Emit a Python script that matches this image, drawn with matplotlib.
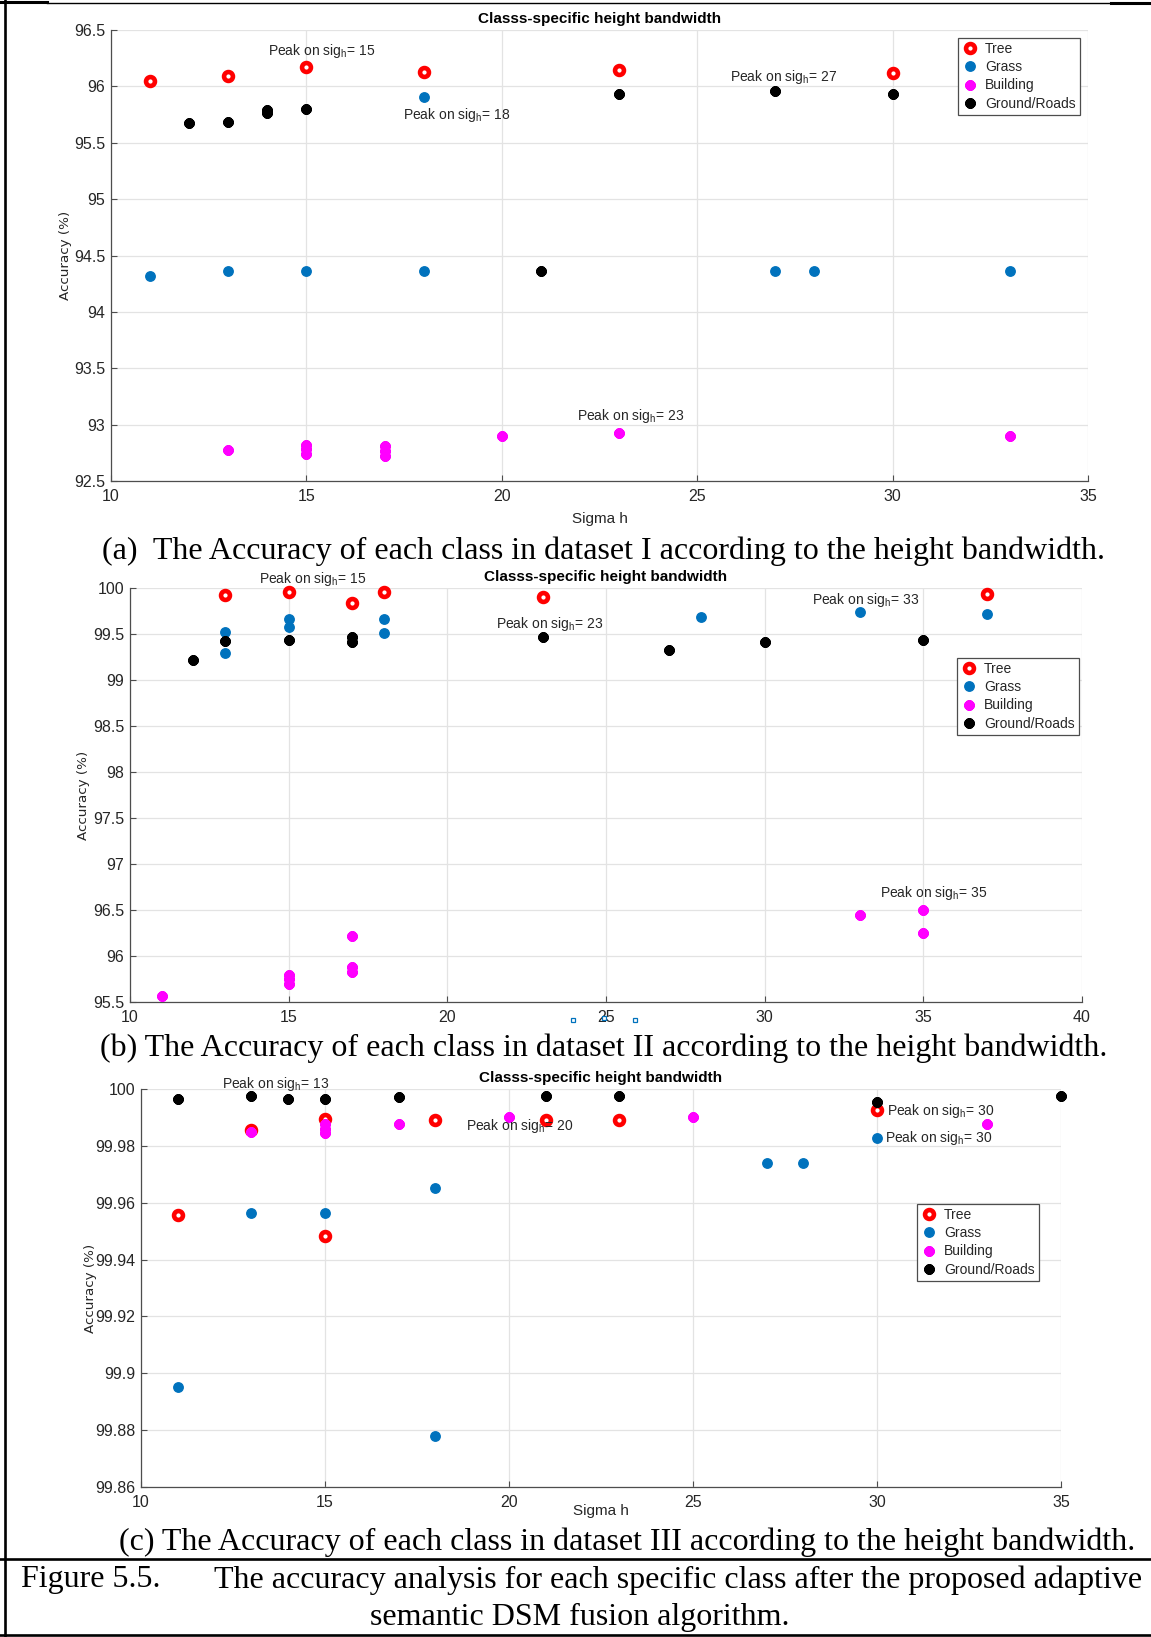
import matplotlib
matplotlib.use("Agg")
import matplotlib.pyplot as plt
from matplotlib.lines import Line2D
from matplotlib.markers import MarkerStyle
from matplotlib.patches import Rectangle

plt.rcParams['font.family'] = ['Liberation Sans', 'DejaVu Sans']
plt.rcParams['mathtext.fontset'] = 'custom'
plt.rcParams['mathtext.rm'] = 'Liberation Sans'
plt.rcParams['mathtext.it'] = 'Liberation Sans:italic'
plt.rcParams['mathtext.bf'] = 'Liberation Sans:bold'

# ---------------- data: dataset I ----------------
a_tree_x = [11, 13, 15, 18, 23, 30]
a_tree_y = [96.045, 96.09, 96.175, 96.13, 96.148, 96.12]
a_grass_x = [11, 13, 15, 18, 18, 27, 28, 33]
a_grass_y = [94.318, 94.365, 94.365, 94.365, 95.908, 94.365, 94.365, 94.365]
a_build_x = [13, 15, 15, 15, 17, 17, 17, 20, 23, 33]
a_build_y = [92.777, 92.82, 92.78, 92.74, 92.81, 92.765, 92.72, 92.90, 92.93, 92.895]
a_ground_x = [12, 13, 14, 14, 15, 21, 23, 27, 30]
a_ground_y = [95.673, 95.685, 95.79, 95.76, 95.80, 94.365, 95.93, 95.96, 95.93]
a_peaks = [(14.02, 96.31, '15'), (17.46, 95.747, '18'), (25.85, 96.08, '27'), (21.92, 93.08, '23')]
a_xticks = [10, 15, 20, 25, 30, 35]
a_yticks = [92.5, 93, 93.5, 94, 94.5, 95, 95.5, 96, 96.5]

# ---------------- data: dataset II ----------------
b_tree_x = [13, 15, 17, 18, 23, 37]
b_tree_y = [99.924, 99.96, 99.835, 99.953, 99.90, 99.93]
b_grass_x = [13, 13, 15, 15, 18, 18, 28, 33, 37]
b_grass_y = [99.52, 99.29, 99.66, 99.58, 99.66, 99.51, 99.68, 99.74, 99.72]
b_build_x = [11, 15, 15, 15, 17, 17, 17, 33, 35, 35]
b_build_y = [95.565, 95.79, 95.745, 95.70, 96.22, 95.885, 95.83, 96.45, 96.50, 96.25]
b_ground_x = [12, 13, 15, 17, 17, 23, 27, 30, 35]
b_ground_y = [99.22, 99.425, 99.43, 99.47, 99.415, 99.47, 99.33, 99.415, 99.43]
b_peaks = [(14.05, 100.10, '15'), (21.53, 99.61, '23'), (31.48, 99.866, '33'), (33.62, 96.68, '35')]
b_xticks = [10, 15, 20, 25, 30, 35, 40]
b_yticks = [95.5, 96, 96.5, 97, 97.5, 98, 98.5, 99, 99.5, 100]

# ---------------- data: dataset III ----------------
c_tree_x = [11, 13, 15, 15, 18, 21, 23, 30]
c_tree_y = [99.9558, 99.9855, 99.9893, 99.9484, 99.989, 99.989, 99.989, 99.9927]
c_grass_x = [11, 13, 15, 18, 18, 27, 28, 30]
c_grass_y = [99.8953, 99.9564, 99.9564, 99.9652, 99.8778, 99.9739, 99.9739, 99.9827]
c_build_x = [13, 15, 15, 15, 17, 20, 25, 33]
c_build_y = [99.985, 99.9876, 99.986, 99.9845, 99.9876, 99.990, 99.990, 99.9876]
c_ground_x = [11, 13, 14, 15, 17, 21, 23, 30, 35]
c_ground_y = [99.9966, 99.9976, 99.9966, 99.9966, 99.9972, 99.9976, 99.9976, 99.9953, 99.9976]
c_peaks = [(12.2, 100.0017, '13'), (18.82, 99.987, '20'), (30.26, 99.9924, '30'), (30.22, 99.9828, '30')]
c_xticks = [10, 15, 20, 25, 30, 35]
c_yticks = [99.86, 99.88, 99.9, 99.92, 99.94, 99.96, 99.98, 100]

class_names = ['Tree', 'Grass', 'Building', 'Ground/Roads']

W, H = 1151, 1637
fig = plt.figure(figsize=(W / 100, H / 100), dpi=100)

# eight-spoke asterisk with square spoke ends
STAR = MarkerStyle((8, 2, 0), capstyle='butt', joinstyle='miter')
styles = {
    'Tree': dict(marker='o', ms=6.4, mew=3.3, mec='#ff0000', mfc='white'),
    'Grass': dict(marker='o', ms=6.8, mew=1.0, mec='#0072bd', mfc='#0072bd'),
    'Building': dict(marker=STAR, ms=7.4, mew=2.6, mec='#ff00ff', mfc='#ff00ff'),
    'Ground/Roads': dict(marker=STAR, ms=7.4, mew=2.6, mec='black', mfc='black'),
}
GRID = '#e3e3e3'
AXC = '#4d4d4d'
TXT = '#262626'


def px_axes(l, t, r, b):
    return fig.add_axes([l / W, 1 - b / H, (r - l) / W, (b - t) / H])


def draw_panel(box, series, peaks, xticks, yticks, legend_box, xlab_y, ylab_x):
    ax = px_axes(*box)
    for name, (xs, ys) in zip(class_names, series):
        ax.plot(xs, ys, ls='none', label=name, clip_on=False, zorder=3, **styles[name])
    ax.set_xlim(xticks[0], xticks[-1])
    ax.set_ylim(yticks[0], yticks[-1])
    ax.set_xticks(xticks)
    ax.set_xticklabels([f'{v:g}' for v in xticks])
    ax.set_yticks(yticks)
    ax.set_yticklabels([f'{v:g}' for v in yticks])
    ax.grid(True, color=GRID, lw=0.9, zorder=0)
    ax.set_axisbelow(True)
    for s in ('top', 'right'):
        ax.spines[s].set_visible(False)
    for s in ('left', 'bottom'):
        ax.spines[s].set_color(AXC)
        ax.spines[s].set_linewidth(0.9)
    ax.tick_params(direction='in', length=4, width=0.8, color=AXC,
                   labelsize=11.5, labelcolor=TXT)
    ax.tick_params(axis='x', pad=6)
    ax.tick_params(axis='y', pad=4)
    ax.set_title('Classs-specific height bandwidth', fontsize=11, fontweight='bold',
                 color='black', pad=5)
    ax.set_xlabel('Sigma h', fontsize=11, color=TXT)
    ax.xaxis.set_label_coords(0.5, xlab_y)
    ax.xaxis.label.set_va('center')
    ax.set_ylabel('Accuracy (%)', fontsize=9.7, color=TXT, family='DejaVu Sans')
    ax.yaxis.set_label_coords(ylab_x, 0.5)
    ax.yaxis.label.set_va('center')
    for x, y, v in peaks:
        ax.text(x, y, 'Peak on sig$_{\\mathrm{h}}$= ' + v, fontsize=10, color=TXT,
                ha='left', va='center', zorder=4)
    lr, lt = legend_box
    leg = ax.legend(loc='upper right', bbox_to_anchor=(lr / W, 1 - lt / H),
                    bbox_transform=fig.transFigure, borderaxespad=0, fontsize=10,
                    frameon=True, fancybox=False, framealpha=1, edgecolor=AXC,
                    handlelength=1.1, handletextpad=0.55, borderpad=0.3,
                    labelspacing=0.3, numpoints=1)
    leg.get_frame().set_linewidth(0.9)
    for t in leg.get_texts():
        t.set_color(TXT)
    return ax


ax_a = draw_panel((111, 30, 1088, 481),
                  [(a_tree_x, a_tree_y), (a_grass_x, a_grass_y),
                   (a_build_x, a_build_y), (a_ground_x, a_ground_y)],
                  a_peaks, a_xticks, a_yticks, (1080, 38), -0.0843, -0.047)
ax_b = draw_panel((130, 588, 1082, 1002),
                  [(b_tree_x, b_tree_y), (b_grass_x, b_grass_y),
                   (b_build_x, b_build_y), (b_ground_x, b_ground_y)],
                  b_peaks, b_xticks, b_yticks, (1079, 658), -0.088, -0.0488)
ax_c = draw_panel((141, 1089, 1061, 1487),
                  [(c_tree_x, c_tree_y), (c_grass_x, c_grass_y),
                   (c_build_x, c_build_y), (c_ground_x, c_ground_y)],
                  c_peaks, c_xticks, c_yticks, (1039, 1204), -0.0603, -0.0554)

# caption of panel (b) sits over that panel's axis label
fig.add_artist(Rectangle((60 / W, 1 - 1070 / H), 1085 / W, 41 / H,
                         transform=fig.transFigure, facecolor='white',
                         edgecolor='none', zorder=1))
fig.add_artist(Line2D([573 / W, 604 / W, 635 / W], [1 - 1020 / H, 1 - 1018 / H, 1 - 1020 / H],
                      transform=fig.transFigure, ls='none', marker='s', ms=2.8,
                      mfc='white', mec='#0072bd', mew=0.9, zorder=2))

SERIF = ['Liberation Serif', 'DejaVu Serif']
cap_kw = dict(family=SERIF, fontsize=23, color='black', va='center', zorder=3)
fig.text(603 / W, 1 - 551 / H,
         '(a)  The Accuracy of each class in dataset I according to the height bandwidth.',
         ha='center', **cap_kw)
fig.text(604 / W, 1 - 1048.5 / H,
         '(b) The Accuracy of each class in dataset II according to the height bandwidth.',
         ha='center', **cap_kw)
fig.text(627.5 / W, 1 - 1542.5 / H,
         '(c) The Accuracy of each class in dataset III according to the height bandwidth.',
         ha='center', **cap_kw)
fig.text(21 / W, 1 - 1580 / H, 'Figure 5.5.', ha='left', **cap_kw)
fig.text(214 / W, 1 - 1580 / H,
         'The accuracy analysis for each specific class after the proposed adaptive',
         ha='left', **cap_kw)
fig.text(580 / W, 1 - 1617 / H, 'semantic DSM fusion algorithm.', ha='center', **cap_kw)

# page frame lines
def hline(y, x0, x1, lw):
    fig.add_artist(Line2D([x0 / W, x1 / W], [1 - y / H, 1 - y / H],
                          transform=fig.transFigure, color='black', lw=lw, zorder=4))


def vline(x, y0, y1, lw):
    fig.add_artist(Line2D([x / W, x / W], [1 - y0 / H, 1 - y1 / H],
                          transform=fig.transFigure, color='black', lw=lw, zorder=4))


vline(4.5, 0, H, 1.9)
hline(1.5, 0, 47, 2.2)
hline(2.5, 47, 1111, 1.0)
hline(3.0, 1111, W, 2.2)
hline(1559, 0, W, 1.9)
hline(1635, 0, W, 1.9)

fig.savefig('out.png', dpi=100)
